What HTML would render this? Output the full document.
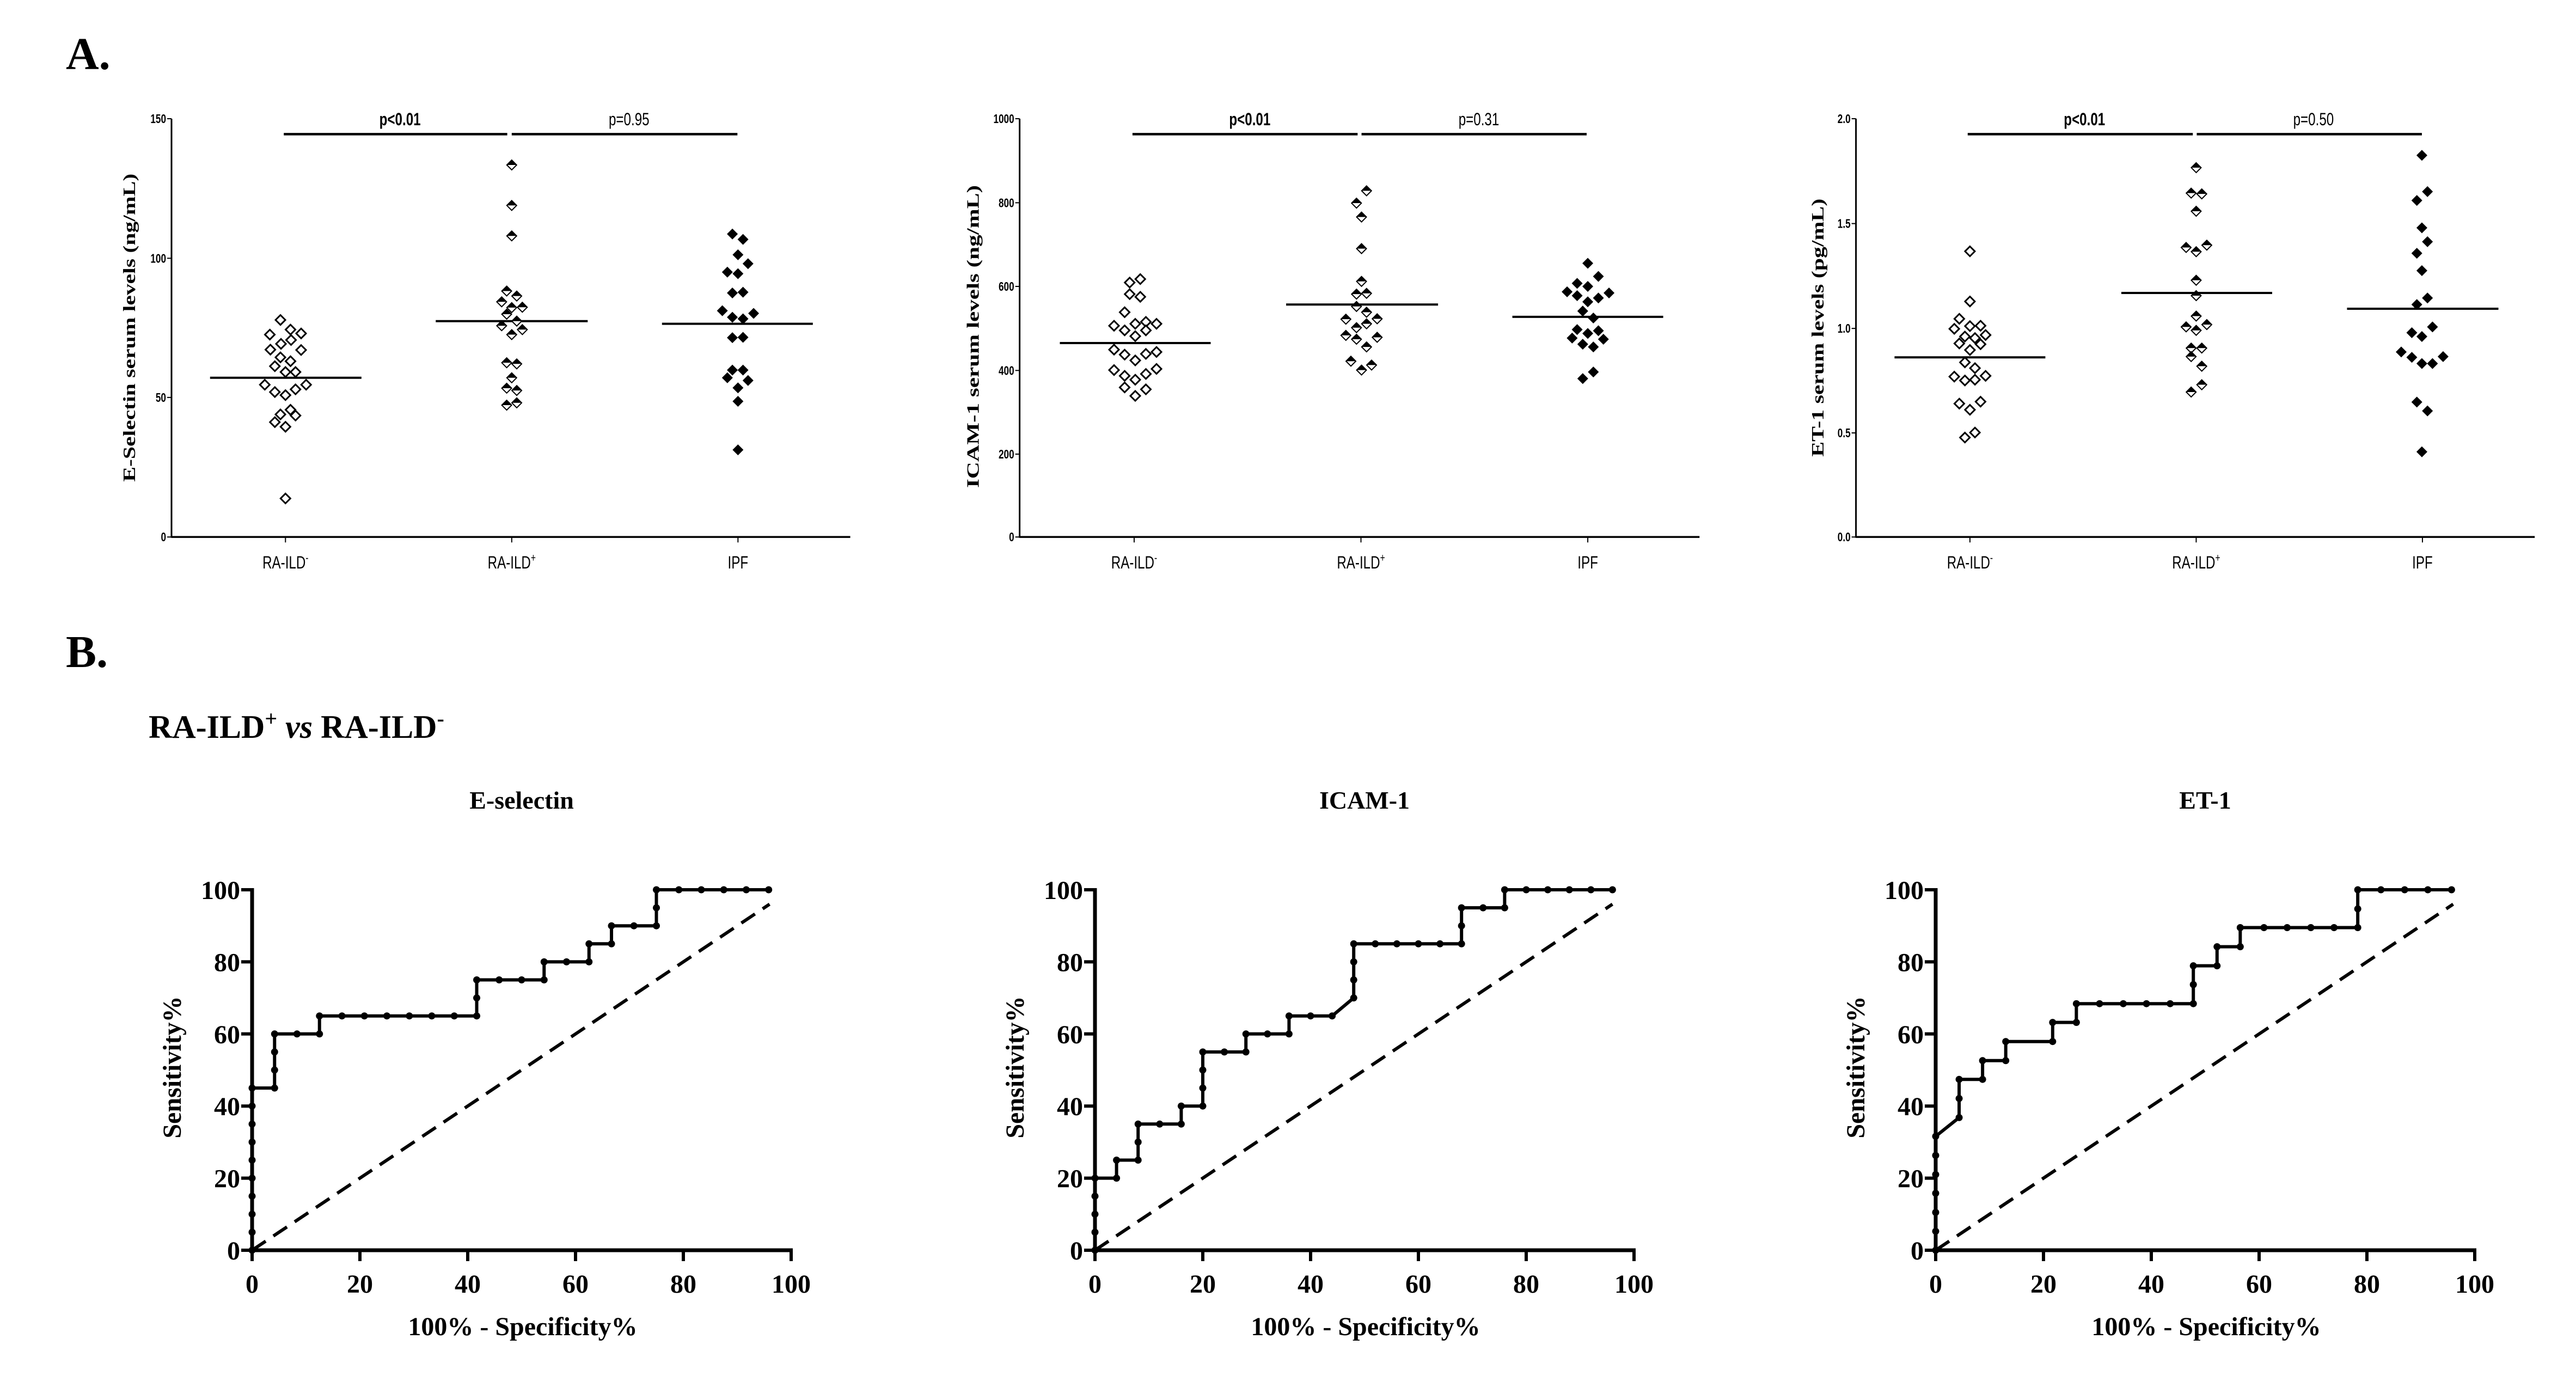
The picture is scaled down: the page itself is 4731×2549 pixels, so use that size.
<!DOCTYPE html>
<html><head><meta charset="utf-8">
<style>
html,body{margin:0;padding:0;background:#fff;}
svg{display:block;}
</style></head>
<body>
<svg id="s" xmlns="http://www.w3.org/2000/svg" width="4731" height="2549" viewBox="0 0 4731 2549">
<rect width="4731" height="2549" fill="#fff"/>
<text x="121" y="127" font-family="Liberation Serif, serif" font-weight="bold" font-size="84">A.</text>
<text x="121" y="1225" font-family="Liberation Serif, serif" font-weight="bold" font-size="84">B.</text>
<text x="273" y="1355" font-family="Liberation Serif, serif" font-weight="bold" font-size="60">RA-ILD<tspan font-size="40" dy="-22">+</tspan><tspan dy="22"> </tspan><tspan font-style="italic">vs</tspan> RA-ILD<tspan font-size="40" dy="-22">-</tspan></text>
</svg>
<script>
const S=document.getElementById('s');const NS='http://www.w3.org/2000/svg';
function el(t,a,txt){const e=document.createElementNS(NS,t);for(const k in a)e.setAttribute(k,a[k]);if(txt!==undefined)e.textContent=txt;S.appendChild(e);return e;}
const NAR='Liberation Sans Narrow, Liberation Sans, sans-serif';
const SER='Liberation Serif, serif';
// narrow text via horizontal scaling
function ntext(x,y,anchor,size,bold,txt,sup){
 const t=el('text',{x:0,y:0,'text-anchor':anchor,'font-family':NAR,'font-size':size,'font-weight':bold?'bold':'normal',transform:`translate(${x},${y}) scale(0.78,1.05)`},txt);
 if(sup){const ts=document.createElementNS(NS,'tspan');ts.setAttribute('dy','-12');ts.setAttribute('font-size','20');ts.textContent=sup;t.appendChild(ts);}
 return t;
}
function scatter(o){
 const X=dx=>o.off+1.026*dx, Y=dy=>0.708*dy-3.6;
 const ax=X(o.axd), y0=Y(1398);
 el('line',{x1:ax,y1:Y(313),x2:ax,y2:y0+1.5,stroke:'#000','stroke-width':3});
 el('line',{x1:ax,y1:y0,x2:X(o.endd),y2:y0,stroke:'#000','stroke-width':3.5});
 o.ticks.forEach(t=>{el('line',{x1:ax-8,y1:Y(t[1]),x2:ax,y2:Y(t[1]),stroke:'#000','stroke-width':2});
  ntext(ax-10,Y(t[1])+8,'end',22,true,t[0]);});
 const labs=['RA-ILD','RA-ILD','IPF'],sups=['-','+',''];
 o.cats.forEach((c,i)=>{el('line',{x1:X(c),y1:y0,x2:X(c),y2:y0+10,stroke:'#000','stroke-width':2});
  ntext(X(c),y0+58,'middle',31,false,labs[i],sups[i]);});
 o.means.forEach(m=>el('line',{x1:X(m[0]),y1:Y(m[2]),x2:X(m[1]),y2:Y(m[2]),stroke:'#000','stroke-width':4}));
 o.bars.forEach(b=>el('line',{x1:X(b[0]),y1:Y(353),x2:X(b[1]),y2:Y(353),stroke:'#000','stroke-width':4.5}));
 ntext(X(o.pt[0]),Y(330),'middle',31,true,'p<0.01');
 ntext(X(o.pt[1]),Y(330),'middle',31,false,o.p2);
 el('text',{x:0,y:0,'text-anchor':'middle','font-family':SER,'font-weight':'bold','font-size':32,textLength:o.yl,lengthAdjust:'spacingAndGlyphs',transform:`translate(${X(o.ytx)+10},${Y(o.yty)}) rotate(-90)`},o.yt);
 const w=9,h=9;
 function dia(x,y,type){
  if(type==0){el('path',{d:`M${x} ${y-h}L${x+w} ${y}L${x} ${y+h}L${x-w} ${y}Z`,fill:'#fff',stroke:'#000','stroke-width':3});}
  else if(type==2){el('path',{d:`M${x} ${y-h-1}L${x+w+1} ${y}L${x} ${y+h+1}L${x-w-1} ${y}Z`,fill:'#000'});}
  else{el('path',{d:`M${x} ${y-h}L${x+w} ${y}L${x} ${y+h}L${x-w} ${y}Z`,fill:'#fff',stroke:'#000','stroke-width':2});
   el('path',{d:`M${x} ${y-h}L${x+w} ${y}L${x-w} ${y}Z`,fill:'#000'});}
 }
 o.pts.forEach((g,gi)=>g.forEach(p=>dia(X(p[0]),Y(p[1]),gi)));
}
scatter({off:0,axd:307,endd:1522,ticks:[['150',313],['100',675],['50',1036],['0',1398]],cats:[511,916,1321],
 means:[[376,647,985],[780,1052,838],[1185,1455,845]],bars:[[508,908],[916,1320]],pt:[716,1126],p2:'p=0.95',
 yt:'E-Selectin serum levels (ng/mL)',ytx:232,yty:855,yl:566,
 pts:[[[502,835],[483,873],[520,860],[539,870],[503,897],[521,887],[484,912],[539,913],[502,932],[520,942],[492,955],[511,970],[529,970],[474,1003],[548,1003],[492,1022],[529,1015],[511,1030],[520,1068],[502,1080],[529,1083],[492,1100],[511,1112],[511,1298]],
 [[916,433],[916,538],[916,617],[907,760],[925,773],[898,788],[916,803],[935,802],[907,820],[925,838],[898,850],[935,860],[916,873],[907,946],[925,949],[916,985],[907,1012],[925,1018],[907,1056],[925,1050]],
 [[1311,612],[1330,626],[1321,666],[1339,689],[1302,711],[1321,715],[1311,765],[1330,763],[1293,811],[1349,818],[1311,828],[1330,832],[1311,881],[1330,880],[1311,965],[1330,965],[1302,985],[1339,992],[1321,1011],[1321,1046],[1321,1172]]]});
scatter({off:1572,axd:293,endd:1510,ticks:[['1000',313],['800',531],['600',748],['400',966],['200',1183],['0',1398]],cats:[498,904,1310],
 means:[[365,635,895],[770,1042,795],[1175,1445,827]],bars:[[495,898],[905,1308]],pt:[705,1115],p2:'p=0.31',
 yt:'ICAM-1 serum levels (ng/mL)',ytx:210,yty:878,yl:556,
 pts:[[[490,738],[509,729],[490,768],[509,775],[481,815],[462,850],[500,845],[519,840],[538,845],[481,862],[519,862],[500,877],[462,912],[481,925],[519,923],[538,918],[500,940],[462,965],[538,962],[481,980],[519,975],[500,990],[481,1010],[519,1015],[500,1032]],
 [[914,500],[896,532],[905,568],[905,650],[905,735],[896,768],[914,766],[896,800],[914,815],[877,833],[933,832],[896,855],[914,845],[877,875],[896,885],[933,880],[914,905],[886,942],[923,952],[905,965]],
 [[1310,688],[1329,722],[1291,740],[1310,748],[1273,762],[1291,772],[1348,765],[1329,778],[1310,788],[1301,812],[1320,830],[1291,860],[1329,863],[1310,870],[1282,882],[1338,885],[1301,898],[1320,905],[1320,970],[1301,987]]]});
scatter({off:3108,axd:293,endd:1508,ticks:[['2.0',313],['1.5',585],['1.0',857],['0.5',1128],['0.0',1398]],cats:[497,902,1307],
 means:[[362,632,932],[768,1038,765],[1172,1443,806]],bars:[[493,896],[903,1306]],pt:[702,1112],p2:'p=0.50',
 yt:'ET-1 serum levels (pg/mL)',ytx:225,yty:855,yl:474,
 pts:[[[497,657],[497,787],[478,832],[516,850],[469,858],[497,851],[488,878],[525,874],[478,896],[506,882],[516,898],[497,913],[488,945],[506,960],[469,982],[525,980],[488,992],[506,990],[478,1052],[516,1047],[497,1068],[506,1127],[488,1140]],
 [[902,440],[893,506],[912,508],[902,553],[884,647],[921,641],[902,658],[902,732],[902,772],[902,825],[884,853],[921,847],[902,862],[893,908],[912,908],[893,930],[912,955],[912,1003],[893,1022]],
 [[1306,408],[1316,502],[1297,525],[1306,596],[1316,632],[1297,662],[1306,707],[1316,778],[1297,795],[1325,853],[1288,868],[1306,878],[1269,918],[1288,932],[1306,948],[1325,948],[1344,930],[1297,1048],[1316,1071],[1306,1177]]]});

function roc(x0,title,pts){
 const px=x=>x0+x*9.9, py=y=>2296-y*6.62;
 el('line',{x1:px(0),y1:py(0)+3,x2:px(0),y2:py(100)-3,stroke:'#000','stroke-width':7});
 el('line',{x1:px(0)-3,y1:py(0),x2:px(100)+3,y2:py(0),stroke:'#000','stroke-width':7});
 for(let v=0;v<=100;v+=20){
  el('line',{x1:px(v),y1:py(0),x2:px(v),y2:py(0)+20,stroke:'#000','stroke-width':6});
  el('line',{x1:px(0)-20,y1:py(v),x2:px(0),y2:py(v),stroke:'#000','stroke-width':6});
  el('text',{x:px(v),y:2374,'text-anchor':'middle','font-family':SER,'font-weight':'bold','font-size':48},String(v));
  el('text',{x:px(0)-22,y:py(v)+17,'text-anchor':'end','font-family':SER,'font-weight':'bold','font-size':48},String(v));
 }
 el('text',{x:x0+495,y:1485,'text-anchor':'middle','font-family':SER,'font-weight':'bold','font-size':46},title);
 el('text',{x:x0+497,y:2452,'text-anchor':'middle','font-family':SER,'font-weight':'bold','font-size':48},'100% - Specificity%');
 el('text',{x:0,y:0,'text-anchor':'middle','font-family':SER,'font-weight':'bold','font-size':48,transform:`translate(${x0-131},1960) rotate(-90)`},'Sensitivity%');
 el('line',{x1:px(0),y1:py(0),x2:px(96),y2:py(96),stroke:'#000','stroke-width':6,'stroke-dasharray':'30 17'});
 el('polyline',{points:pts.map(p=>px(p[0])+','+py(p[1])).join(' '),fill:'none',stroke:'#000','stroke-width':6,'stroke-linejoin':'miter'});
 pts.forEach(p=>el('circle',{cx:px(p[0]),cy:py(p[1]),r:6.5,fill:'#000'}));
}
const r1=[[0,0],[0,5],[0,10],[0,15],[0,20],[0,25],[0,30],[0,35],[0,40],[0,45],[4.17,45],[4.17,50],[4.17,55],[4.17,60],[8.33,60],[12.5,60],[12.5,65],[16.67,65],[20.83,65],[25,65],[29.17,65],[33.33,65],[37.5,65],[41.67,65],[41.67,70],[41.67,75],[45.83,75],[50,75],[54.17,75],[54.17,80],[58.33,80],[62.5,80],[62.5,85],[66.67,85],[66.67,90],[70.83,90],[75,90],[75,95],[75,100],[79.17,100],[83.33,100],[87.5,100],[91.67,100],[95.83,100]];
const r2=[[0,0],[0,5],[0,10],[0,15],[0,20],[4,20],[4,25],[8,25],[8,30],[8,35],[12,35],[16,35],[16,40],[20,40],[20,45],[20,50],[20,55],[24,55],[28,55],[28,60],[32,60],[36,60],[36,65],[40,65],[44,65],[48,70],[48,75],[48,80],[48,85],[52,85],[56,85],[60,85],[64,85],[68,85],[68,90],[68,95],[72,95],[76,95],[76,100],[80,100],[84,100],[88,100],[92,100],[96,100]];
const r3=[[0,0],[0,5.26],[0,10.5],[0,15.8],[0,21],[0,26.3],[0,31.6],[4.35,36.8],[4.35,42.1],[4.35,47.4],[8.7,47.4],[8.7,52.6],[13,52.6],[13,57.9],[21.7,57.9],[21.7,63.2],[26.1,63.2],[26.1,68.4],[30.4,68.4],[34.8,68.4],[39.1,68.4],[43.5,68.4],[47.8,68.4],[47.8,73.7],[47.8,78.9],[52.2,78.9],[52.2,84.2],[56.5,84.2],[56.5,89.5],[60.9,89.5],[65.2,89.5],[69.6,89.5],[73.9,89.5],[78.3,89.5],[78.3,94.7],[78.3,100],[82.6,100],[87,100],[91.3,100],[95.7,100]];
roc(463,'E-selectin',r1);
roc(2011,'ICAM-1',r2);
roc(3555,'ET-1',r3);
</script>
</body></html>
